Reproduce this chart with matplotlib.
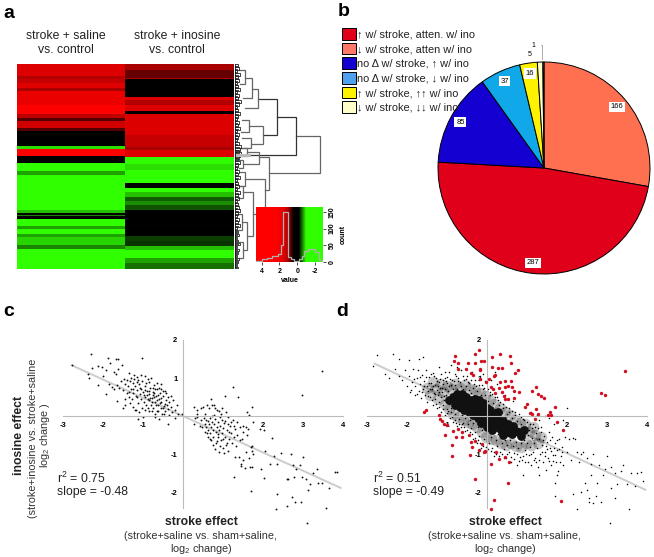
import numpy as np
import matplotlib
matplotlib.use('Agg')
import matplotlib.pyplot as plt
from matplotlib.colors import LinearSegmentedColormap
from matplotlib.patches import Patch

plt.rcParams['font.family'] = ['Liberation Sans', 'DejaVu Sans']
plt.rcParams['mathtext.default'] = 'regular'
plt.rcParams['axes.unicode_minus'] = False

W, H = 654, 557

# heatmap (value, number of rows)
saline_bands = [(1.5,13),(1.1,3),(1.3,4),(1.6,5),(1.0,3),(1.8,14),(2.5,9),(1.2,4),(.7,3),(1.4,7),(.7,3),(.1,15),
                (-.9,3),(3,7),(.1,7),(-1.1,7),(-.7,4),(-1.3,35),(-.8,3),(0,2),(-.6,1),(0,3),(-1.2,7),(-.7,3),
                (-1.1,5),(-.7,3),(-.85,8),(-.6,4),(-1.25,20)]
inosine_bands = [(1.0,7),(.75,8),(1.0,1),(.1,18),(1.5,3),(1.1,5),(1.5,6),(.3,3),(1.5,21),(1.3,12),(1.0,3),(1.5,7),
                 (-1.0,7),(-.9,5),(-1.2,13),(0,5),(-1.1,4),(-.8,5),(-.5,4),(-.65,4),(-.45,5),(.05,13),(-.2,4),
                 (.05,9),(-.4,5),(-.35,5),(-.8,4),(-1.2,8),(-.7,5),(-.55,6)]
heat_columns = ['stroke + saline\nvs. control', 'stroke + inosine\nvs. control']

# dendrogram: height, row of both branches, height of both children
dendro_nodes = [(85,72,109,61,34),(61,53,91,42,2),(42,35,71,23,28),(23,25,44,17,10),(28,62,80,14,16),(17,14,34,10,8),
                (10,6,20,4,5),(14,56,68,7,6),(16,74,84,7,5),(34,93,126,24,30),(24,88,100,12,8),(12,84,92,6,4),
                (8,96,104,4,4),(30,115,150,10,18),(10,108,122,5,4),(18,128,172,8,12),(8,122,134,4,3),(12,158,186,7,8),
                (7,150,166,3,3),(8,178,194,4,4)]
leaf_rows = [2,5,8,11,14,17,20,23,26,29,32,35,38,41,44,47,50,53,56,59,62,65,68,71,74,77,80,83,86,88,90,92,94,96,99,
             102,105,108,111,114,117,120,123,126,129,132,135,138,141,144,147,150,153,156,159,162,165,168,171,174,
             177,180,183,186,189,192,195,198,201,204]
leaf_heights = [3,4,2,5,3,4,2,3,5,2,4,3,6,4,2,3,5,3,2,4,3,5,2,4,3,2,4,6,5,4,6,5,4,3,5,
                3,2,4,3,5,2,3,4,2,5,3,4,2,3,4,5,3,2,4,3,5,2,3,4,2,
                3,5,2,4,3,2,4,3,2,3]

# colour key histogram
hist_edges = [4.6,4.0,3.4,2.8,2.2,1.8,1.6,1.0,0.7,0.4,0.1,-0.2,-0.5,-0.8,-1.2,-2.0,-2.5,-2.9]
hist_counts = [3,8,12,18,24,50,150,14,8,3,3,8,18,34,40,30,6]

# pie
pie_counts = [166,287,85,37,16,5,1]
pie_colors = ['#FF7050','#E0001A','#1400D0','#10A8E8','#FFF200','#FFFFC8','#FFFFFF']
legend_labels = ['↑ w/ stroke, atten. w/ ino','↓ w/ stroke, atten w/ ino','no Δ w/ stroke, ↑ w/ ino',
                 'no Δ w/ stroke, ↓ w/ ino','↑ w/ stroke, ↑↑ w/ ino','↓ w/ stroke, ↓↓ w/ ino']
legend_colors = ['#E0001A','#FF7868','#1400D0','#50A0F0','#FFF200','#FFFFC8']

# panel c points
c_points = [(-2.31,1.63),(-2.78,1.34),(-1.87,1.52),(-1.67,1.49),(-1.63,1.5),(-1.03,1.53),(-2.13,1.32),(-2.02,1.29),
    (-2.28,1.26),(-1.93,1.21),(-1.83,1.39),(-1.63,1.25),(-1.52,1.34),(-2.37,1.10),(-2.35,1.01),(-1.99,1.05),(-1.73,1.17),
    (-1.68,1.11),(-2.12,.82),(-1.93,.57),(-1.85,.83),(-1.78,.76),(-1.72,.7),(-1.66,.82),(-1.6,.75),(-1.55,.92),(-1.5,.68),
    (-1.47,.97),(-1.44,.85),(-1.4,.6),(-1.38,.78),(-1.35,1.12),(-1.33,.92),(-1.3,.7),(-1.28,.45),(-1.26,.86),(-1.24,.6),
    (-1.22,.97),(-1.2,.78),(-1.18,.52),(-1.16,.9),(-1.14,.68),(-1.12,.35),(-1.1,.83),(-1.08,.58),(-1.06,.45),(-1.04,.72),
    (-1.02,.93),(-1.0,.62),(-.98,.38),(-.96,.8),(-.94,.5),(-.92,.28),(-.9,.67),(-.88,.98),(-.86,.42),(-.84,.58),(-.82,.75),
    (-.8,.3),(-.78,.47),(-.76,.64),(-.74,.2),(-.72,.82),(-.7,.38),(-.68,.53),(-.66,.12),(-.64,.7),(-.62,.3),(-.6,.45),
    (-.58,.6),(-.56,.2),(-.54,.37),(-.52,.04),(-.5,.52),(-.48,.27),(-.46,.66),(-.44,.14),(-.42,.42),(-.4,.3),(-.38,.19),
    (-.36,.02),(-.34,.36),(-.3,.25),(-.27,.1),(-.24,.42),(-.2,.16),(-.16,.3),(-.12,.05),(-.03,.06),(-.2,-.05),(-.38,-.2),
    (-.6,-.07),(-1.13,-.08),(-1.0,-.03),(-1.2,.15),(-1.5,.2),(-1.65,.4),(-1.45,.44),(-1.1,.1),(-.85,.12),(-.7,.04),(-.9,.55),
    (-.75,.55),(-.65,.42),(-.55,.48),(-.62,.56),(-.78,.38),(-.98,.55),(-1.15,.5),(-1.25,.72),(-1.35,.5),(-.95,.68),(-.84,.66),
    (-.68,.3),(-.58,.33),(-.5,.2),(-.45,.32),(-.72,.6),(-.88,.45),(3.47,1.19),(2.98,.55),(1.24,.77),(1.37,.51),(1.04,.53),
    (.69,.45),(1.73,.25),(1.61,.11),(1.65,.03),(1.76,-.17),(2.03,-.37),(1.93,-.35),(2.23,-.59),(2.05,-.92),(1.69,-.81),
    (1.72,-.91),(2.44,-.96),(2.69,-1.0),(3.01,-1.09),(2.28,-1.05),(1.94,-1.39),(2.03,-1.62),(2.18,-1.27),(2.36,-1.25),
    (2.76,-1.29),(2.93,-1.29),(3.36,-1.39),(3.26,-1.51),(3.79,-1.48),(3.86,-1.48),(2.82,-1.40),(2.78,-1.6),(2.59,-1.65),
    (2.62,-1.65),(2.98,-1.6),(3.07,-1.65),(3.18,-1.79),(3.38,-1.75),(3.47,-1.75),(3.65,-1.9),(3.13,-1.95),(1.71,-1.96),
    (2.36,-2.04),(2.73,-2.13),(2.59,-2.36),(2.32,-2.44),(2.79,-2.27),(2.94,-2.26),(3.57,-2.43),(3.11,-2.82),(1.28,-1.6),
    (.28,.25),(.36,.05),(.36,-.03),(.45,.2),(.44,-.1),(.27,-.2),(.52,-.05),(.55,-.2),(.58,-.3),(.6,.28),(.62,-.12),(.63,-.38),
    (.65,-.22),(.67,-.05),(.68,-.45),(.7,-.3),(.72,-.15),(.73,.0),(.75,-.55),(.76,-.37),(.78,-.22),(.8,-.08),(.8,.2),(.82,-.42),
    (.83,-.7),(.85,-.28),(.86,.17),(.87,-.54),(.88,-.15),(.9,-.38),(.92,-.78),(.92,-.02),(.93,-.25),(.95,-.62),(.97,-.45),
    (.98,.2),(1.0,-.32),(1.0,-.85),(1.03,-.18),(1.05,-.55),(1.07,-.75),(1.08,.1),(1.1,-.38),(1.12,-.02),(1.13,-.92),(1.15,-.6),
    (1.17,-.25),(1.2,-.45),(1.22,-.7),(1.24,-.1),(1.27,-.55),(1.3,-.35),(1.3,-1.08),(1.33,-.8),(1.35,-.5),(1.4,-1.08),(1.42,-.3),
    (1.45,-1.25),(1.47,-.6),(1.5,-.42),(1.5,-1.15),(1.45,-1.32),(1.55,-1.37),(1.58,-.95),(1.6,-.5),(1.62,-.35),(1.65,-1.1),
    (1.68,-1.35),(1.72,-.78),(1.75,-1.0),(1.73,-1.33),
    (-1.45,.3),(-1.4,.95),(-1.32,.35),(-1.25,.25),(-1.18,.15),(-1.35,.62),(-1.3,1.0),(-1.22,1.08),(-1.15,1.02),(-1.05,1.08),
    (-.95,1.05),(-.85,.9),(-.8,1.0),(-.75,.75),(-.7,.72),(-.65,.88),(-.55,.72),(-.5,.65),(-.48,.05),(-.62,.12),(-.7,-.03),
    (-.78,.12),(-.88,.2),(-.95,.15),(-1.02,.2),(-.42,.6),(-.38,.5),(-.3,.52),(-.6,.75),(-.82,.48),(-.72,.5),(-1.08,.75),
    (-1.12,.95),(-.92,.88),(-.55,.85),(.3,-.05),(.35,.15),(.42,-.25),(.5,.25),(.55,.05),(.6,-.45),(.66,.22),(.72,.3),(.78,.3),
    (.85,-.65),(.9,.12),(.95,.05),(.55,-.42),(.62,-.55),(.7,-.62),(.75,-.75),(.8,-.88),(.9,-.95),(1.0,-.6),(1.05,-.12),(1.1,-.7),
    (1.15,-.42),(1.2,-.15),(1.28,-.25),(1.35,-.15),(1.42,-.62),(1.5,-.25),(1.58,-.3),(.48,-.3),(.58,-.1),(.68,-.6),(.78,.02),
    (.98,-.1),(1.02,-.98),(1.12,-.2),(.88,-.48)]
c_line = [-2.78, 3.94]
c_slope = -0.48

# panel d points, the dense core is drawn with bigger dots, the halo in soft grey
d_core = [(-.95,.42),(-.85,.5),(-.8,.3),(-.7,.45),(-.68,.25),(-.6,.38),(-.58,.16),(-.5,.32),(-.52,.5),(-.45,.1),(-.42,.25),
    (-.4,.42),(-.35,.02),(-.32,.18),(-.28,.32),(-.25,.08),(-.22,-.04),(-.2,.2),(-.15,.32),(-.12,.08),(-.1,-.1),(-.08,.18),
    (-.02,-.02),(0,.2),(.03,-.15),(.06,.06),(.1,-.05),(.14,-.24),(.17,.04),(.2,-.12),(.25,-.3),(.28,-.08),(.32,-.2),(.36,-.36),
    (.4,-.12),(.44,-.28),(.48,-.42),(.52,-.2),(.56,-.34),(.62,-.46),(.66,-.26),(.72,-.4),(.8,-.42),(.86,-.52),(.92,-.36),
    (-.75,.58),(-.62,.58),(-.3,.45),(.0,-.3),(.28,.1),(.4,-.5),(-.45,.4),(-.2,.42),(-.1,.35),(.08,.16),(.12,-.36),(-.15,-.18)]
d_halo = [(-1.5,.75),(-1.42,.55),(-1.35,.9),(-1.28,.72),(-1.22,.45),(-1.15,.85),(-1.1,.62),(-1.05,.32),(-1.0,.78),(-.95,.18),(-.9,.7),
    (-.85,.05),(-.8,.85),(-.72,-.02),(-.68,.75),(-.6,-.1),(-.55,.82),(-.48,-.15),(-.42,.72),(-.38,-.22),(-.3,.68),(-.25,-.3),(-.18,.6),
    (-.12,-.42),(-.05,.52),(-.02,-.55),(.08,.42),(.1,-.6),(.18,.32),(.22,-.62),(.32,.2),(.35,-.7),(.45,.1),(.48,-.75),(.58,.02),(.6,-.72),
    (.7,-.1),(.72,-.8),(.82,-.18),(.85,-.82),(.95,-.2),(.98,-.7),(1.05,-.42),(1.1,-.75),(1.2,-.5),(1.28,-.72),(1.15,-.3),(1.35,-.55)]
d_fine = [(-2.75,1.6),(-2.35,1.62),(-2.2,1.5),(-1.95,1.48),(-1.7,1.5),(-1.6,1.55),(-2.85,1.32),(-2.55,1.1),(-2.45,1.0),
    (-2.3,1.25),(-2.2,1.05),(-2.12,.95),(-2.05,1.2),(-2.0,.8),(-1.95,1.05),(-1.9,.68),(-1.88,.9),(-1.85,1.25),(-1.8,.55),(-1.8,.78),
    (-1.76,1.0),(-1.72,1.2),(-1.7,.65),(-1.68,.85),(-1.65,.48),(-1.62,1.08),(-1.6,.72),(-1.58,.92),(-1.55,.55),(-1.52,1.22),
    (-1.5,.8),(-1.5,.38),(-1.47,.66),(-1.45,1.02),(-1.42,.5),(-1.4,.88),(-1.38,.72),(-1.36,1.12),(-1.35,.3),(-1.33,.6),(-1.3,.82),
    (-1.3,.45),(-1.28,1.0),(-1.26,.68),(-1.24,.2),(-1.22,.55),(-1.2,.9),(-1.2,.36),(-1.18,.75),(-1.16,1.1),(-1.15,.5),(-1.14,.1),
    (-1.12,.64),(-1.1,.85),(-1.1,.28),(-1.08,.42),(-1.06,1.0),(-1.05,.72),(-1.04,.02),(-1.02,.55),(-1.0,.18),(-1.0,.88),(-.98,.66),
    (-.96,.32),(-.95,1.15),(-.94,.78),(-.92,-.05),(-.9,.1),(-.9,.58),(-.88,.95),(-.86,.25),(-.85,.7),(-.84,-.15),(-.82,.4),(-.8,.82),
    (-.8,.05),(-.78,1.05),(-.76,.18),(-.75,-.25),(-.74,.72),(-.72,.92),(-.7,-.08),(-.7,.12),(-.68,.62),(-.66,.78),(-.65,-.3),(-.64,1.2),
    (-.62,.02),(-.6,-.18),(-.6,.7),(-.58,.95),(-.56,-.05),(-.55,.62),(-.54,-.4),(-.52,.78),(-.5,.08),(-.5,1.05),(-.48,-.22),(-.46,.68),
    (-.45,-.5),(-.44,.88),(-.42,-.1),(-.4,.6),(-.4,-.32),(-.38,1.15),(-.36,.75),(-.35,-.6),(-.34,-.18),(-.32,.55),(-.3,-.42),(-.3,.95),
    (-.28,-.12),(-.26,.65),(-.25,-.72),(-.24,.48),(-.22,-.28),(-.2,.82),(-.2,-.52),(-.18,1.05),(-.16,-.2),(-.15,.55),(-.14,-.85),
    (-.12,-.38),(-.1,.7),(-.1,.42),(-.08,-.6),(-.06,.92),(-.05,-.25),(-.04,.55),(-.02,-.95),(0,-.45),(.02,.4),(.02,.72),(.04,-.7),
    (.06,-.32),(.08,.55),(.1,-.55),(.1,.22),(.12,-.85),(.14,.35),(.16,-.42),(.18,-1.05),(.2,.18),(.22,-.62),(.24,.5),(.26,-.78),
    (.28,-.48),(.3,.28),(.32,-.95),(.34,-.55),(.36,.08),(.38,-.72),(.4,.2),(.42,-.88),(.44,-.02),(.46,-.62),(.48,-1.1),(.5,.05),
    (.5,-.75),(.52,-.52),(.54,-.95),(.56,.1),(.58,-.62),(.6,-1.2),(.62,-.05),(.64,-.78),(.66,-.56),(.68,-.98),(.7,.02),(.72,-.68),
    (.74,-1.28),(.76,-.12),(.78,-.85),(.8,-.58),(.82,-1.08),(.84,-.2),(.86,-.72),(.88,-1.15),(.9,-.08),(.92,-.62),(.94,-.9),(.96,-1.22),
    (.98,-.28),(1.0,-.72),(1.02,-.5),(1.04,-1.02),(1.06,-.38),(1.08,-.82),(1.1,-1.3),(1.12,-.58),(1.14,-.2),(1.16,-.95),(1.18,-.7),
    (1.2,-1.1),(1.22,-.45),(1.25,-.85),(1.28,-1.35),(1.3,-.6),(1.32,-1.0),(1.35,-.3),(1.38,-.75),(1.4,-1.2),(1.42,-.52),(1.45,-.95),
    (1.48,-1.42),(1.5,-.68),(1.52,-1.1),(1.55,-.42),(1.58,-.85),(1.6,-1.28),(1.62,-.55),(1.65,-1.02),(1.68,-.2),(1.7,-.72),(1.72,-1.2),
    (1.75,-.9),(1.78,-1.45),(1.8,-.6),(1.85,-1.05),(1.88,-.82),(1.9,-1.3),(1.95,-.55),(2.0,-.95),(2.05,-.6),(2.1,-1.15),(2.15,-.58),
    (2.2,-.6),(2.25,-.95),(2.3,-1.2),(2.35,-1.0),(2.4,-.95),(2.5,-1.1),(2.6,-1.25),(2.65,-1.0),(2.8,-1.3),(2.95,-1.4),(3.0,-1.05),
    (3.1,-1.35),(3.2,-1.5),(3.35,-1.45),(3.4,-1.3),(3.6,-1.5),(3.75,-1.5),(3.85,-1.48),(3.9,-1.7),(3.7,-1.85),(3.5,-1.8),(3.25,-1.78),
    (3.1,-1.9),(2.9,-1.55),(2.75,-1.75),(2.6,-1.55),(2.55,-2.15),(1.7,-1.75),(1.75,-1.55),(2.15,-2.05),(2.35,-2.0),(2.5,-1.95),(2.45,-1.75),
    (1.3,-1.55),(.9,-1.55),(2.73,-2.1),(2.85,-2.25),(2.55,-2.25),(2.25,-2.45),(2.65,-2.3),(3.2,-2.15),(3.55,-2.45),(3.08,-2.82),
    (1.7,-2.1),(1.3,-.1),(1.45,.0),(1.55,-.05),(1.9,-.1),(2.0,.2),(1.25,.02),(1.1,.1),(.65,.4),(.45,.55),(.25,.85),(.1,.95),(-.1,1.1),
    (.75,1.2),(.2,1.15),(-.9,1.35),(-1.2,1.3),(-1.05,1.15),(-.75,1.3),
    (-1.93,.62),(-1.83,.98),(-1.74,.58),(-1.67,1.02),(-1.63,.62),(-1.57,.78),(-1.53,1.02),(-1.48,.52),(-1.46,.88),(-1.43,.72),(-1.41,1.1),
    (-1.37,.42),(-1.34,.78),(-1.32,1.05),(-1.29,.58),(-1.27,.32),(-1.25,.92),(-1.23,.78),(-1.21,.25),(-1.19,.62),(-1.17,.98),(-1.13,.75),
    (-1.11,.18),(-1.09,.95),(-1.07,.52),(-1.03,.92),(-1.01,.08),(-.99,1.02),(-.97,.12),(-.93,.98),(-.91,.2),(-.89,.82),(-.87,-.02),
    (-.83,.92),(-.81,-.1),(-.79,1.1),(-.77,-.18),(-.73,1.0),(-.71,-.2),(-.67,.9),(-.63,-.22),(-.61,1.05),(-.57,-.3),(-.53,.98),(-.49,-.38),
    (-.47,.9),(-.43,-.42),(-.39,.95),(-.37,-.48),(-.33,.85),(-.31,-.58),(-.27,.8),(-.23,-.62),(-.21,.95),(-.17,-.7),(-.13,.82),(-.09,-.78),
    (-.07,.75),(-.03,-.82),(.01,.65),(.03,-.88),(.07,.62),(.09,-.92),(.13,.58),(.17,-.95),(.19,.5),(.23,-1.0),(.27,.42),(.29,-1.05),(.33,.38),
    (.37,-1.0),(.41,.32),(.43,-1.1),(.47,.25),(.51,-1.0),(.55,.2),(.59,-1.08),(.63,.12),(.67,-1.12),(.71,.1),(.75,-1.0),(.79,.05),(.81,-1.18),
    (.85,-.02),(.89,-1.05),(.93,-.1),(.97,-1.0),(1.01,-.15),(1.03,-1.2),(1.07,-.22),(1.11,-1.0),(1.13,-.32),(1.17,-1.15),(1.19,-.28),
    (1.23,-1.22),(1.27,-.32),(1.31,-1.15),(1.34,-.42),(1.37,-.95),(1.41,-.62),(1.44,-1.05),(1.47,-.78),(1.51,-.88),(1.54,-1.18),(1.57,-.62),
    (1.61,-.92),(1.64,-1.18),(1.67,-.85),(1.71,-1.02),(1.74,-.62),(1.79,-.88),(1.83,-1.22),(1.87,-.95)]
d_red = [(-.21,1.75),(-.31,1.64),(-.79,1.57),(-.83,1.46),(-.73,1.40),(-.48,1.39),(-.29,1.40),(-.15,1.45),(-.07,1.46),(.13,1.55),
    (.32,1.62),(.57,1.57),(.6,1.40),(.12,1.29),(.28,1.27),(.38,1.26),(.78,1.22),(.70,1.14),(-.72,1.25),(-.53,1.25),(-.18,1.25),
    (-.18,1.2),(-.39,1.14),(-.36,1.07),(-.18,.98),(-.03,.89),(.05,.98),(.18,1.04),(.21,1.07),(.11,.76),(.14,.72),(.29,.75),(.33,.89),
    (.46,.92),(.61,.92),(.53,.78),(.46,.76),(.63,.76),(.67,.66),(.21,.61),(.38,.63),(.42,.53),(.44,.46),(.53,.46),(.67,.47),(.79,.63),
    (1.13,.66),(1.23,.76),(1.28,.57),(1.36,.52),(1.42,.48),(1.69,.23),(1.58,.10),(1.52,.02),(1.61,.02),(1.23,.19),(.96,.24),(1,.31),
    (1.08,.08),(1.13,.06),(1.27,.06),(1.21,-.07),(1.75,-.16),(1.9,-.38),(2.85,.61),(2.96,.54),(3.44,1.18),(1.86,-2.24),(.53,-1.75),
    (.18,-2.22),(.11,-2.44),(-.31,-1.66),(.11,-1.27),(.29,-1.14),(.44,-1.08),(.54,-1.22),(.23,-.95),(-.08,-.95),(-.04,-.93),(-.21,-.9),
    (-.42,-1.02),(-.88,-1.04),(-.88,-.77),(-1.04,-.51),(-.86,-.4),(-.73,-.35),(-.63,-.42),(-.77,-.55),(-.63,-.55),(-.46,-.51),(-.31,-.67),
    (-.38,-.82),(-.13,-.73),(-.39,-.68),(-1.17,-.09),(-1.13,-.14),(-1.08,-.2),(-1.0,-.24),(-1.21,.02),(-1.58,.11),(-1.53,.17)]
d_line = [-2.81, 3.96]
d_slope = -0.49

x_ticks = [-3,-2,-1,2,3,4]
y_ticks = [2,1,-1,-2]


def px_axes(left, top, right, bottom, **kw):
    return fig.add_axes([left/W, 1-bottom/H, (right-left)/W, (bottom-top)/H], **kw)


def px_text(x, y, s, **kw):
    kw.setdefault('ha', 'center')
    kw.setdefault('va', 'center')
    fig.text(x/W, 1-y/H, s, **kw)


def expand(bands):
    return np.concatenate([[v]*n for v, n in bands])


fig = plt.figure(figsize=(W/100, H/100), dpi=100)

# a: heatmap
stops = [(-3,'#30FF00'),(-1.0,'#30FF00'),(-.2,'#000000'),(.4,'#000000'),(1.0,'#A80000'),(1.5,'#DC0000'),(2.2,'#FF0000'),(5,'#FF0000')]
cmap = LinearSegmentedColormap.from_list('gbr', [((v+3)/8, c) for v, c in stops])
ax = px_axes(17, 63.5, 233.5, 269)
ax.imshow(np.column_stack([expand(saline_bands), expand(inosine_bands)]), cmap=cmap, vmin=-3, vmax=5,
          aspect='auto', interpolation='nearest')
ax.axis('off')
px_text(66, 43, heat_columns[0], fontsize=8.8, color='#222222', linespacing=1.25)
px_text(177, 43, heat_columns[1], fontsize=8.8, color='#222222', linespacing=1.25)

# a: dendrogram
ax = px_axes(235, 63.5, 325, 269)
ax.set_xlim(0, 90)
ax.set_ylim(205, 0)
ax.axis('off')
for h, y1, y2, h1, h2 in dendro_nodes:
    col = '#333333' if h >= 40 and h < 70 else '#666666'
    ax.plot([h1, h, h, h2], [y1, y1, y2, y2], color=col, lw=0.9, solid_joinstyle='miter')
for y, h in zip(leaf_rows, leaf_heights):
    ax.plot([0, h, h, 0], [y-1.4, y-1.4, y+1.4, y+1.4], color='#222222', lw=0.6)
    ax.plot([0, h*0.6], [y, y], color='#222222', lw=0.6)
ax.plot([0.5, 0.5], [0, 205], color='#111111', lw=1.2)
ax.plot([2, 14], [91, 91], color='#BBBBBB', lw=2.2)

# a: colour key
ax = px_axes(256, 207, 323, 262)
grad = np.linspace(4.64, -2.9, 256)[None, :]
ax.imshow(grad, cmap=cmap, vmin=-3, vmax=5, aspect='auto', extent=[4.64, -2.9, 0, 165], interpolation='bilinear')
ax.step(hist_edges, hist_counts + [hist_counts[-1]], where='post', color='#B0B0B0', lw=0.9)
ax.set_xlim(4.64, -2.9)
ax.set_ylim(0, 165)
ax.set_xticks([4, 2, 0, -2])
ax.set_xticklabels(['4', '2', '0', '-2'], fontsize=5, fontweight='bold')
ax.set_xlabel('value', fontsize=5, fontweight='bold', labelpad=1.5)
ax.yaxis.tick_right()
ax.yaxis.set_label_position('right')
ax.set_yticks([0, 50, 100, 150])
ax.set_yticklabels(['0', '50', '100', '150'], fontsize=5, fontweight='bold', rotation=90, va='center')
ax.set_ylabel('count', fontsize=5, fontweight='bold', labelpad=3)
ax.tick_params(length=2, width=0.5, pad=2)
for s in ax.spines.values():
    s.set_visible(False)

# b: pie
ax = px_axes(438, 62, 650, 274)
wedges, labels = ax.pie(pie_counts, colors=pie_colors, startangle=90, counterclock=False, radius=1,
                        labels=[str(c) for c in pie_counts], labeldistance=0.9,
                        wedgeprops=dict(edgecolor='black', linewidth=0.7),
                        textprops=dict(fontsize=5.5, ha='center', va='center'))
ax.set_xlim(-1, 1)
ax.set_ylim(-1, 1)
for t in labels[:5]:
    t.set_bbox(dict(facecolor='white', edgecolor='none', pad=1.2))
labels[5].set_visible(False)
labels[6].set_visible(False)
ax.annotate(str(pie_counts[5]), xy=(-0.1, 1.0), xytext=(-0.14, 1.07), fontsize=5, ha='center', va='center',
            annotation_clip=False, arrowprops=dict(arrowstyle='-', color='#888888', lw=0.5,
                                                   connectionstyle='angle,angleA=0,angleB=90'))
ax.annotate(str(pie_counts[6]), xy=(-0.02, 1.0), xytext=(-0.1, 1.16), fontsize=5, ha='center', va='center',
            annotation_clip=False, arrowprops=dict(arrowstyle='-', color='#888888', lw=0.5,
                                                   connectionstyle='angle,angleA=0,angleB=90'))
handles = [Patch(facecolor=c, edgecolor='black', linewidth=0.7) for c in legend_colors]
fig.legend(handles, legend_labels, loc='upper left', bbox_to_anchor=(342/W, 1-28/H), frameon=False, fontsize=7.9,
           handlelength=1.25, handleheight=1.25, handletextpad=0.1, labelspacing=0.28, borderpad=0, borderaxespad=0,
           labelcolor='#222222')


# c, d: scatter panels
def scatter_axes(left):
    a = px_axes(left, 340, left+280, 508)
    a.set_xlim(-3, 4)
    a.set_ylim(-2.42, 2)
    a.patch.set_alpha(0)
    for name in ['top', 'right']:
        a.spines[name].set_visible(False)
    a.spines['left'].set_position(('data', 0))
    a.spines['bottom'].set_position(('data', 0))
    a.spines['left'].set_color('#BBBBBB')
    a.spines['bottom'].set_color('#BBBBBB')
    a.set_xticks(x_ticks)
    a.set_yticks(y_ticks)
    a.tick_params(length=0, labelsize=5.5, pad=4)
    for t in a.get_xticklabels() + a.get_yticklabels():
        t.set_fontweight('bold')
    return a


ax = scatter_axes(63)
xs = np.array(c_line)
ax.plot(xs, c_slope*xs, color='#CCCCCC', lw=1.4, zorder=1)
pts = np.array(c_points).T
ax.scatter(pts[0], pts[1], s=1.8, c='#111111', marker='o', linewidths=0, clip_on=False, zorder=2, snap=False)

ax = scatter_axes(367)
xs = np.array(d_line)
ax.plot(xs, d_slope*xs, color='#CCCCCC', lw=1.4, zorder=1)
pts = np.array(d_halo).T
ax.scatter(pts[0], pts[1], s=70, c='black', marker='o', linewidths=0, alpha=0.22, zorder=2)
pts = np.array(d_fine).T
ax.scatter(pts[0], pts[1], s=1.2, c='black', marker='o', linewidths=0, clip_on=False, zorder=2, snap=False)
pts = np.array(d_core).T
ax.scatter(pts[0], pts[1], s=40, c='#111111', marker='o', linewidths=0, zorder=2)
pts = np.array(d_red).T
ax.scatter(pts[0], pts[1], s=6, c='#D01020', marker='o', linewidths=0, clip_on=False, zorder=3)

for cx, r2, slope, tx in [(201, '0.75', '-0.48', 57), (505, '0.51', '-0.49', 373)]:
    px_text(cx, 522, 'stroke effect', fontsize=8.8, fontweight='bold', color='#222222')
    px_text(cx, 536, '(stroke+saline vs. sham+saline,', fontsize=7.8, color='#333333')
    px_text(cx, 549, 'log$_2$ change)', fontsize=7.8, color='#333333')
    px_text(tx, 478, 'r$^2$ = ' + r2, fontsize=8.8, ha='left', color='#222222')
    px_text(tx, 492, 'slope = ' + slope, fontsize=8.8, ha='left', color='#222222')

px_text(19, 435, 'inosine effect', fontsize=8.8, fontweight='bold', rotation=90, color='#222222')
px_text(33, 438, '(stroke+inosine vs. stroke+saline', fontsize=7.8, rotation=90, color='#333333')
px_text(45, 435, 'log$_2$ change )', fontsize=7.8, rotation=90, color='#333333')

# panel letters
for x, y, s in [(9, 13, 'a'), (344, 12, 'b'), (9, 312, 'c'), (342, 312, 'd')]:
    px_text(x, y, s, fontsize=14, fontweight='bold', color='black')

fig.savefig('out.png', dpi=100)
